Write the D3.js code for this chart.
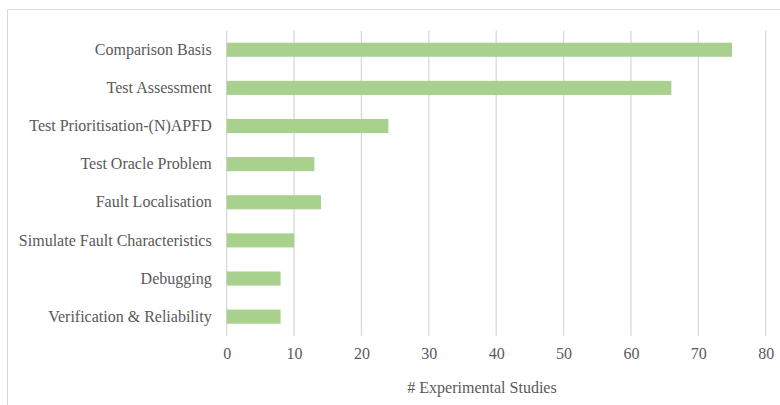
<!DOCTYPE html>
<html><head><meta charset="utf-8">
<script src="https://cdn.jsdelivr.net/npm/d3@7"></script>
<style>body{margin:0;background:#fff}svg{display:block}
svg text{font-family:"Liberation Serif","Times New Roman",serif !important;fill:#595959}</style>
</head><body>
<script>
const categories = ["Comparison Basis","Test Assessment","Test Prioritisation-(N)APFD","Test Oracle Problem","Fault Localisation","Simulate Fault Characteristics","Debugging","Verification & Reliability"];
const values = [75,66,24,13,14,10,8,8];
const xTicks = [0,10,20,30,40,50,60,70,80];
const xTitle = "# Experimental Studies";

(function(){
const W=780,H=405;
const svg=d3.select("body").append("svg").attr("width",W).attr("height",H);
svg.append("rect").attr("x",7.5).attr("y",9.5).attr("width",W).attr("height",H)
  .attr("fill","#fff").attr("stroke","#d9d9d9").attr("stroke-width",1);

const pL=226.7,pR=765.7,pT=30.7,pB=335.7;
const x=d3.scaleLinear().domain([0,80]).range([pL,pR]);
const y=d3.scaleBand().domain(categories).range([pT,pB]).paddingInner(0.63).paddingOuter(0.315);

svg.append("g").selectAll("line").data(xTicks).join("line")
  .attr("x1",d=>x(d)).attr("x2",d=>x(d)).attr("y1",pT).attr("y2",pB)
  .attr("stroke","#d9d9d9").attr("stroke-width",1.3);

svg.append("g").selectAll("rect").data(values).join("rect")
  .attr("x",x(0)).attr("y",(d,i)=>y(categories[i]))
  .attr("width",d=>x(d)-x(0)).attr("height",y.bandwidth())
  .attr("fill","#a9d18e");

const xa=svg.append("g").attr("transform",`translate(0,${pB})`)
  .call(d3.axisBottom(x).tickValues(xTicks).tickSize(0).tickPadding(12));
xa.select(".domain").remove();
xa.selectAll("text").style("font-size","16px");

const ya=svg.append("g").attr("transform",`translate(${pL},0)`)
  .call(d3.axisLeft(y).tickSize(0).tickPadding(15));
ya.select(".domain").remove();
ya.selectAll("text").style("font-size","16px");

svg.append("text").attr("x",482).attr("y",393).attr("text-anchor","middle")
  .style("font-size","16px").text(xTitle);
})();
</script>
</body></html>
